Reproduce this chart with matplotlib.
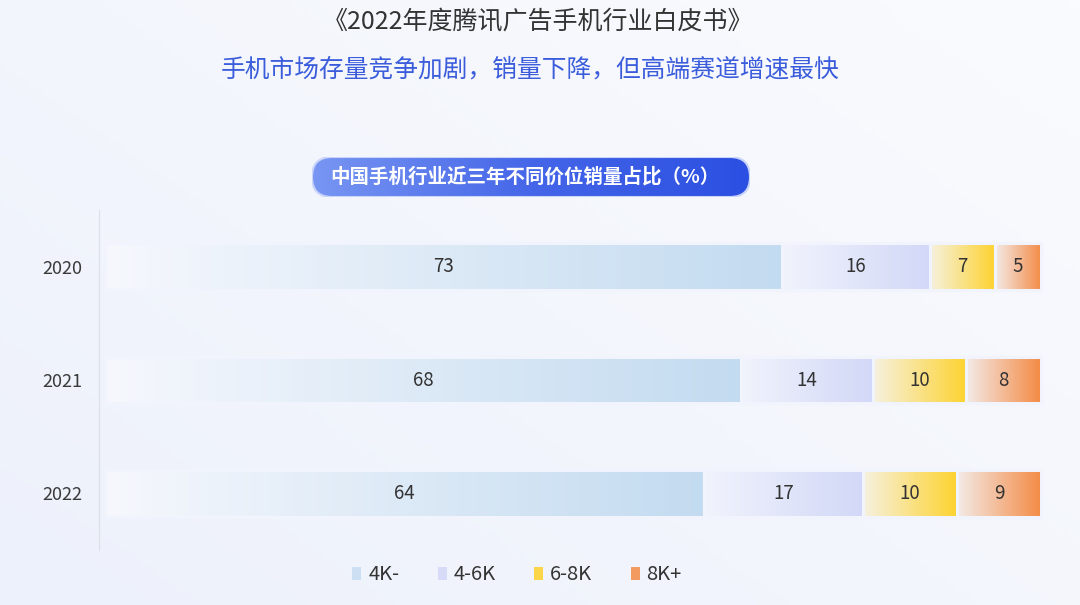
import numpy as np
import matplotlib.pyplot as plt
from matplotlib.colors import LinearSegmentedColormap
from matplotlib.patches import FancyBboxPatch, Patch

plt.rcParams['font.family'] = ['Noto Sans CJK SC', 'DejaVu Sans']

years = ['2020', '2021', '2022']
segments = ['4K-', '4-6K', '6-8K', '8K+']
v_4k = [73, 68, 64]
v_4_6k = [16, 14, 17]
v_6_8k = [7, 10, 10]
v_8k = [5, 8, 9]

# gradient start / end colours per price band
grad = {
    '4K-': ('#f6f8fd', '#c3dbf0'),
    '4-6K': ('#f1f3fc', '#d2d8f7'),
    '6-8K': ('#f6f1e0', '#fdd330'),
    '8K+': ('#f4ebe8', '#f38a44'),
}
legend_col = {'4K-': '#cddff2', '4-6K': '#d7dbf7', '6-8K': '#fbd54a', '8K+': '#f29a60'}

W, H = 1080, 605
fig = plt.figure(figsize=(W / 100, H / 100), dpi=100)

# background
bg = fig.add_axes([0, 0, 1, 1], zorder=-10)
bg.axis('off')
gx = np.linspace(0, 1, 200)
gy = np.linspace(0, 1, 120)
X, Y = np.meshgrid(gx, gy)
bg_cmap = LinearSegmentedColormap.from_list('bg', ['#edf1fb', '#fafbfe'])
bg.imshow(0.55 * X + 0.45 * Y, cmap=bg_cmap, aspect='auto', extent=(0, 1, 0, 1), origin='lower')

# titles
fig.text(538 / W, 1 - 22 / H, '《2022年度腾讯广告手机行业白皮书》', ha='center', va='center',
         fontsize=18, color='#333333')
fig.text(530 / W, 1 - 70 / H, '手机市场存量竞争加剧，销量下降，但高端赛道增速最快', ha='center', va='center',
         fontsize=17.8, color='#3b5ddc', fontweight='medium')

# pill header
pw, ph = 438, 40
pax = fig.add_axes([312 / W, 1 - 197 / H, pw / W, ph / H])
pax.set_xlim(0, pw)
pax.set_ylim(0, ph)
pax.axis('off')
pill = FancyBboxPatch((0, 0), pw, ph, boxstyle='round,pad=0,rounding_size=20',
                      facecolor='none', edgecolor='#c9d4fa', linewidth=1.5)
pax.add_patch(pill)
pill_cmap = LinearSegmentedColormap.from_list('pill', ['#7896f2', '#4566e8', '#2b4fe2'])
im = pax.imshow(np.linspace(0, 1, 256)[None, :], cmap=pill_cmap, aspect='auto',
                extent=(0, pw, 0, ph))
im.set_clip_path(pill)
pax.text(pw / 2 - 6, ph / 2, '中国手机行业近三年不同价位销量占比（%）', ha='center', va='center',
         fontsize=14, color='white', fontweight='bold')

# main chart
ax = fig.add_axes([105 / W, 1 - 550 / H, (1045 - 105) / W, (550 - 210) / H])
ax.set_facecolor('none')
data = np.array([v_4k, v_4_6k, v_6_8k, v_8k], dtype=float)
shares = data / data.sum(axis=0) * 100
y = np.arange(len(years))
left = np.zeros(len(years))
ramp = np.linspace(0, 1, 256)[None, :]
for i, seg in enumerate(segments):
    bars = ax.barh(y, shares[i], left=left, height=0.41, facecolor='none',
                   edgecolor='#f1f4fc', linewidth=2.2, zorder=3)
    cmap = LinearSegmentedColormap.from_list(seg, grad[seg])
    for b, val in zip(bars, data[i]):
        x0, y0 = b.get_x(), b.get_y()
        img = ax.imshow(ramp, cmap=cmap, aspect='auto', zorder=2, interpolation='bilinear',
                        extent=(x0, x0 + b.get_width(), y0, y0 + b.get_height()))
        img.set_clip_path(b)
        ax.text(x0 + b.get_width() / 2, y0 + b.get_height() / 2, f'{int(val)}',
                ha='center', va='center', fontsize=13.5, color='#333333', zorder=4)
    left += shares[i]

ax.set_xlim(0, 100 * 940 / 936)
ax.set_ylim(2.5, -0.5)
ax.set_yticks(y)
ax.set_yticklabels(years)
ax.set_xticks([])
ax.tick_params(axis='y', length=0, pad=12, labelsize=13, labelcolor='#3a3a3a')
for s in ['top', 'right', 'bottom']:
    ax.spines[s].set_visible(False)
ax.spines['left'].set_color('#dde2ea')
ax.spines['left'].set_linewidth(0.9)
ax.spines['left'].set_position(('outward', 4))

handles = [Patch(facecolor=legend_col[s], edgecolor='none', label=s) for s in segments]
fig.legend(handles=handles, loc='center', bbox_to_anchor=(517 / W, 1 - 575 / H), ncol=4,
           frameon=False, fontsize=14.5, handlelength=0.45, handleheight=0.6,
           handletextpad=0.35, columnspacing=1.9, labelcolor='#333333')

fig.savefig('out.png', dpi=100)
